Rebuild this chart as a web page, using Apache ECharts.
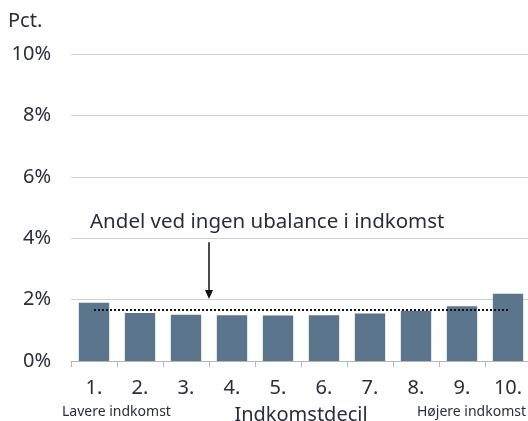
<!DOCTYPE html>
<html>
<head>
<meta charset="utf-8">
<script src="https://cdn.jsdelivr.net/npm/echarts@6/dist/echarts.min.js"></script>
<style>
  html, body { margin: 0; padding: 0; background: #fff; }
  #chart { width: 528px; height: 421px; }
</style>
</head>
<body>
<div id="chart"></div>
<script>
  var deciles = ['1.', '2.', '3.', '4.', '5.', '6.', '7.', '8.', '9.', '10.']
  var shares = [1.90, 1.56, 1.51, 1.49, 1.48, 1.49, 1.55, 1.64, 1.78, 2.19]
  var balanced = 1.66
  var arrowFrom = 3.87
  var arrowTo = 2.02

  var textColor = '#2a2c40'
  var font = 'Noto Sans'

  var chart = echarts.init(document.getElementById('chart'))
  chart.setOption({
    animation: false,
    textStyle: {fontFamily: font},
    grid: {
      left: 71,
      right: -3,
      top: 54,
      bottom: 60,
      outerBoundsMode: 'none'
    },
    xAxis: {
      type: 'category',
      data: deciles,
      name: 'Indkomstdecil',
      nameLocation: 'middle',
      nameGap: 44,
      nameTextStyle: {fontSize: 20, color: textColor, fontFamily: font},
      axisLine: {lineStyle: {color: '#b5b5b5'}},
      axisTick: {show: true, length: 6, lineStyle: {color: '#b5b5b5'}},
      axisLabel: {fontSize: 20, color: textColor, margin: 17, fontFamily: font}
    },
    yAxis: {
      type: 'value',
      min: 0,
      max: 10,
      interval: 2,
      axisLine: {show: false},
      axisTick: {show: false},
      axisLabel: {
        formatter: '{value}%',
        fontSize: 20,
        color: textColor,
        margin: 20,
        fontFamily: font
      },
      splitLine: {lineStyle: {color: '#cfcfcf'}}
    },
    series: [{
      type: 'bar',
      data: shares,
      barCategoryGap: '34%',
      itemStyle: {color: '#5b768c'},
      markLine: {
        silent: true,
        symbol: 'none',
        label: {show: false},
        lineStyle: {type: 'dotted', color: '#111', width: 2},
        data: [[{coord: [0, balanced]}, {coord: [9, balanced]}]]
      }
    }]
  })

  // pil og tekst placeres ud fra akserne
  var p2 = chart.convertToPixel({seriesIndex: 0}, [2, arrowFrom])
  var p3 = chart.convertToPixel({seriesIndex: 0}, [3, arrowTo])
  var ax = (p2[0] + p3[0]) / 2
  chart.setOption({
    graphic: [
      {
        type: 'text', left: 8, top: 11,
        style: {text: 'Pct.', fontSize: 20, fill: textColor, fontFamily: font}
      },
      {
        type: 'text', left: 62, top: 405,
        style: {text: 'Lavere indkomst', fontSize: 14, fill: textColor, fontFamily: font}
      },
      {
        type: 'text', right: 2, top: 405,
        style: {text: 'Højere indkomst', fontSize: 14, fill: textColor, fontFamily: font}
      },
      {
        type: 'text', left: 90, top: 212,
        style: {text: 'Andel ved ingen ubalance i indkomst', fontSize: 20.5, fill: textColor, fontFamily: font}
      },
      {
        type: 'line',
        shape: {x1: ax, y1: p2[1], x2: ax, y2: p3[1] - 8},
        style: {stroke: '#111', lineWidth: 1.5}
      },
      {
        type: 'polygon',
        shape: {points: [[ax - 4, p3[1] - 9], [ax + 4, p3[1] - 9], [ax, p3[1]]]},
        style: {fill: '#111'}
      }
    ]
  })
</script>
</body>
</html>
